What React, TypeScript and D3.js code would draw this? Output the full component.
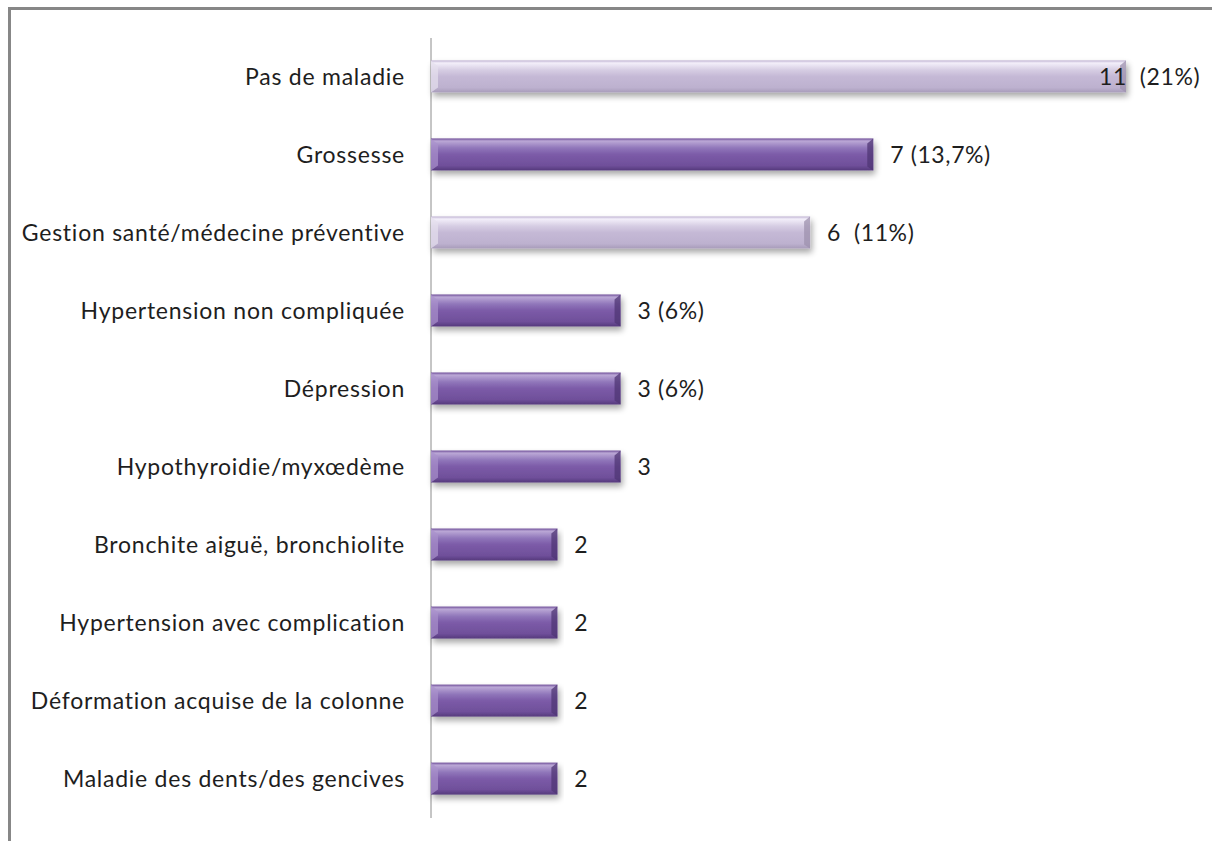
import React from "react";
import * as d3 from "d3";

const categories = [
  "Pas de maladie",
  "Grossesse",
  "Gestion santé/médecine préventive",
  "Hypertension non compliquée",
  "Dépression",
  "Hypothyroidie/myxœdème",
  "Bronchite aiguë, bronchiolite",
  "Hypertension avec complication",
  "Déformation acquise de la colonne",
  "Maladie des dents/des gencives",
];
const values = [11, 7, 6, 3, 3, 3, 2, 2, 2, 2];
const valueLabels = ["11  (21%)", "7 (13,7%)", "6  (11%)", "3 (6%)", "3 (6%)", "3", "2", "2", "2", "2"];
const highlighted = [true, false, true, false, false, false, false, false, false, false];

const W = 1212;
const H = 841;
const FONT = "Lato, 'Liberation Sans', sans-serif";

export default function App() {
  const x0 = 431;
  const x = d3.scaleLinear().domain([0, 11]).range([x0, x0 + 695]);
  const y = d3.scaleBand<string>().domain(categories).range([37, 818]).paddingInner(0.59).paddingOuter(0.3);
  const bh = y.bandwidth();

  return (
    <svg width={W} height={H} style={{ position: "absolute", left: 0, top: 0 }}>
      <defs>
        <linearGradient id="gDark" x1="0" y1="0" x2="0" y2="1">
          <stop offset="0" stopColor="#6d4c97" />
          <stop offset="0.08" stopColor="#bba8d6" />
          <stop offset="0.3" stopColor="#9076ba" />
          <stop offset="0.5" stopColor="#7c5ba8" />
          <stop offset="0.85" stopColor="#6f4f9a" />
          <stop offset="1" stopColor="#553a7c" />
        </linearGradient>
        <linearGradient id="gLight" x1="0" y1="0" x2="0" y2="1">
          <stop offset="0" stopColor="#bfb2d2" />
          <stop offset="0.08" stopColor="#f3effa" />
          <stop offset="0.3" stopColor="#d6cde3" />
          <stop offset="0.5" stopColor="#c5b9d6" />
          <stop offset="0.85" stopColor="#bdb1cf" />
          <stop offset="1" stopColor="#a89cba" />
        </linearGradient>
        <filter id="shadow" x="-5%" y="-30%" width="110%" height="180%">
          <feGaussianBlur in="SourceAlpha" stdDeviation="3" />
          <feOffset dx="2" dy="4" result="b" />
          <feComponentTransfer>
            <feFuncA type="linear" slope="0.35" />
          </feComponentTransfer>
          <feMerge>
            <feMergeNode />
            <feMergeNode in="SourceGraphic" />
          </feMerge>
        </filter>
      </defs>
      <rect x={0} y={0} width={W} height={H} fill="#ffffff" />
      <path d={`M9.5,${H} V8.5 H${W}`} fill="none" stroke="#878787" strokeWidth={3} />

      <line x1={x0} x2={x0} y1={38} y2={818} stroke="#8c8c8c" strokeWidth={1} />

      {categories.map((c, i) => {
        const yy = y(c)!;
        const xe = x(values[i]);
        const light = highlighted[i];
        const bevelC = light ? "#9d91ae" : "#4f3574";
        const bevelHi = light ? "#e6e0ee" : "#a991cc";
        return (
          <g key={c}>
            <g filter="url(#shadow)">
              <rect x={x0} y={yy} width={xe - x0} height={bh} fill={light ? "url(#gLight)" : "url(#gDark)"} />
            </g>
            <path
              d={`M${xe - 6},${yy + 5} L${xe},${yy} L${xe},${yy + bh} L${xe - 6},${yy + bh - 4} Z`}
              fill={bevelC}
              opacity={0.75}
            />
            <path
              d={`M${x0},${yy} L${x0 + 7},${yy + 6} L${x0 + 7},${yy + bh - 5} L${x0},${yy + bh} Z`}
              fill={bevelHi}
              opacity={0.7}
            />
            <text
              x={x0 - 26}
              y={yy + bh / 2}
              dy="0.36em"
              textAnchor="end"
              fontFamily={FONT}
              fontSize={23}
              letterSpacing={0.75}
              fill="#1e1e1e"
            >
              {c}
            </text>
            <text
              x={i === 0 ? xe - 27 : xe + 17}
              y={yy + bh / 2}
              dy="0.36em"
              fontFamily={FONT}
              fontSize={23}
              letterSpacing={0.6}
              fill="#1e1e1e"
              style={{ whiteSpace: "pre" }}
            >
              {valueLabels[i]}
            </text>
          </g>
        );
      })}
    </svg>
  );
}
